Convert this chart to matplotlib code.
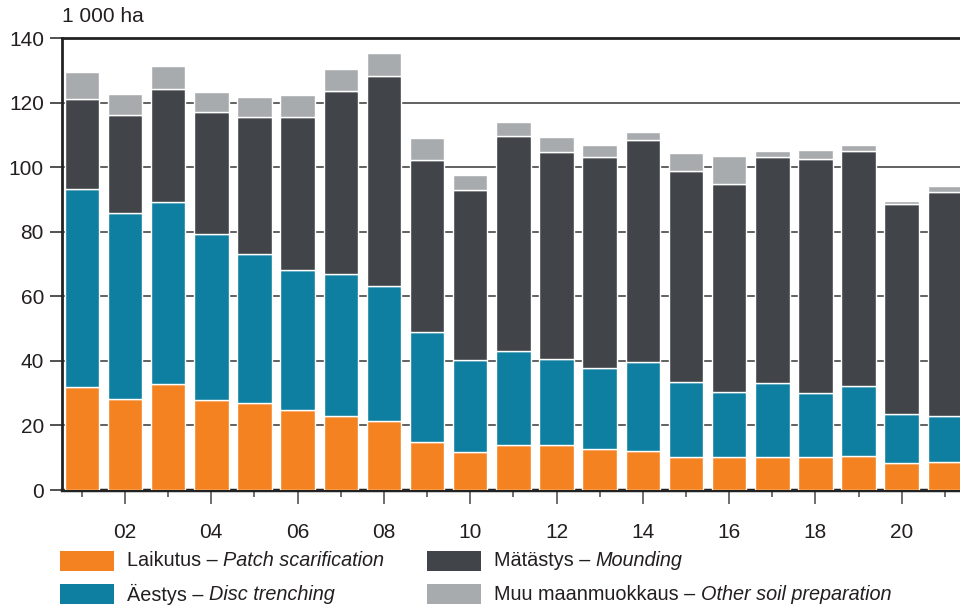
import matplotlib
matplotlib.use("Agg")
import matplotlib.pyplot as plt
from matplotlib.patches import Rectangle
import numpy as np

plt.rcParams['font.family'] = ['Liberation Sans', 'DejaVu Sans']
plt.rcParams['text.color'] = '#231F20'
plt.rcParams['xtick.labelcolor'] = '#231F20'
plt.rcParams['ytick.labelcolor'] = '#231F20'

years = list(range(2001, 2022))
tick_years = [2002, 2004, 2006, 2008, 2010, 2012, 2014, 2016, 2018, 2020]
tick_labels = ["02", "04", "06", "08", "10", "12", "14", "16", "18", "20"]

patch_scar = [31.8, 28.2, 32.8, 27.9, 26.9, 24.8, 22.9, 21.5, 14.9, 11.8, 13.8,
              14.0, 12.8, 12.1, 10.3, 10.3, 10.1, 10.1, 10.4, 8.3, 8.7]
disc_trench = [61.3, 57.5, 56.4, 51.4, 46.1, 43.3, 43.9, 41.7, 34.0, 28.5, 29.2,
               26.6, 25.0, 27.7, 23.2, 20.0, 22.9, 19.8, 21.8, 15.3, 14.2]
mounding = [27.9, 30.4, 35.1, 37.8, 42.4, 47.3, 56.8, 65.1, 53.3, 52.6, 66.7,
            64.2, 65.4, 68.6, 65.3, 64.5, 70.0, 72.7, 72.8, 64.9, 69.5]
other = [8.4, 6.6, 7.0, 6.1, 6.2, 7.0, 6.7, 7.0, 6.8, 4.8, 4.3,
         4.5, 3.7, 2.6, 5.7, 8.5, 2.0, 2.8, 1.8, 1.1, 1.7]

series = [
    (patch_scar, "#F58220", "Laikutus – ", "Patch scarification"),
    (disc_trench, "#0E7FA0", "Äestys – ", "Disc trenching"),
    (mounding, "#414549", "Mätästys – ", "Mounding"),
    (other, "#A8ABAE", "Muu maanmuokkaus – ", "Other soil preparation"),
]

fig = plt.figure(figsize=(9.6, 6.11), dpi=100)
ax = fig.add_axes([62/960, 1-490/611, 1-62/960, (490-38)/611])

bottom = np.zeros(len(years))
for vals, col, _, _ in series:
    ax.bar(years, vals, bottom=bottom, width=0.8, color=col,
           edgecolor="white", linewidth=1.0, zorder=3)
    bottom += np.array(vals)

ax.set_xlim(2000.54, 2021.35)
ax.set_ylim(0, 140)
ax.set_yticks(range(0, 141, 20))
ax.yaxis.grid(True, color="#555555", linewidth=1.3, zorder=0)
ax.set_axisbelow(True)

ax.set_xticks(years, minor=True)
ax.set_xticks(tick_years)
ax.set_xticklabels(tick_labels)
ax.tick_params(axis='x', which='major', length=10, width=1.2, color="#555555",
               pad=14, labelsize=15)
ax.tick_params(axis='x', which='minor', length=5, width=1.2, color="#555555")
ax.tick_params(axis='y', length=9, width=1.2, color="#333333", pad=4, labelsize=15)

for s in ['left', 'bottom', 'top']:
    ax.spines[s].set_color("#222222")
ax.spines['left'].set_linewidth(2)
ax.spines['bottom'].set_linewidth(2.5)
ax.spines['top'].set_linewidth(2)
ax.spines['right'].set_visible(False)

fig.text(62/960, 1-17/611, "1 000 ha", fontsize=15, va='center', ha='left')

# legend
W, H = 960, 611
positions = [(60, 561), (60, 594), (427, 561), (427, 594)]
for (vals, col, name, eng), (px, py) in zip(series, positions):
    rect = Rectangle((px/W, 1-(py+10)/H), 54/W, 20/H, transform=fig.transFigure,
                     facecolor=col, edgecolor='none')
    fig.add_artist(rect)
    t1 = fig.text((px+67)/W, 1-py/H, name, fontsize=14.3, va='center', ha='left')
    plt.annotate(eng, xy=(1, 0.5), xycoords=t1, va='center', ha='left',
                 fontsize=14.3, style='italic', annotation_clip=False)

fig.savefig("out.png", dpi=100)
